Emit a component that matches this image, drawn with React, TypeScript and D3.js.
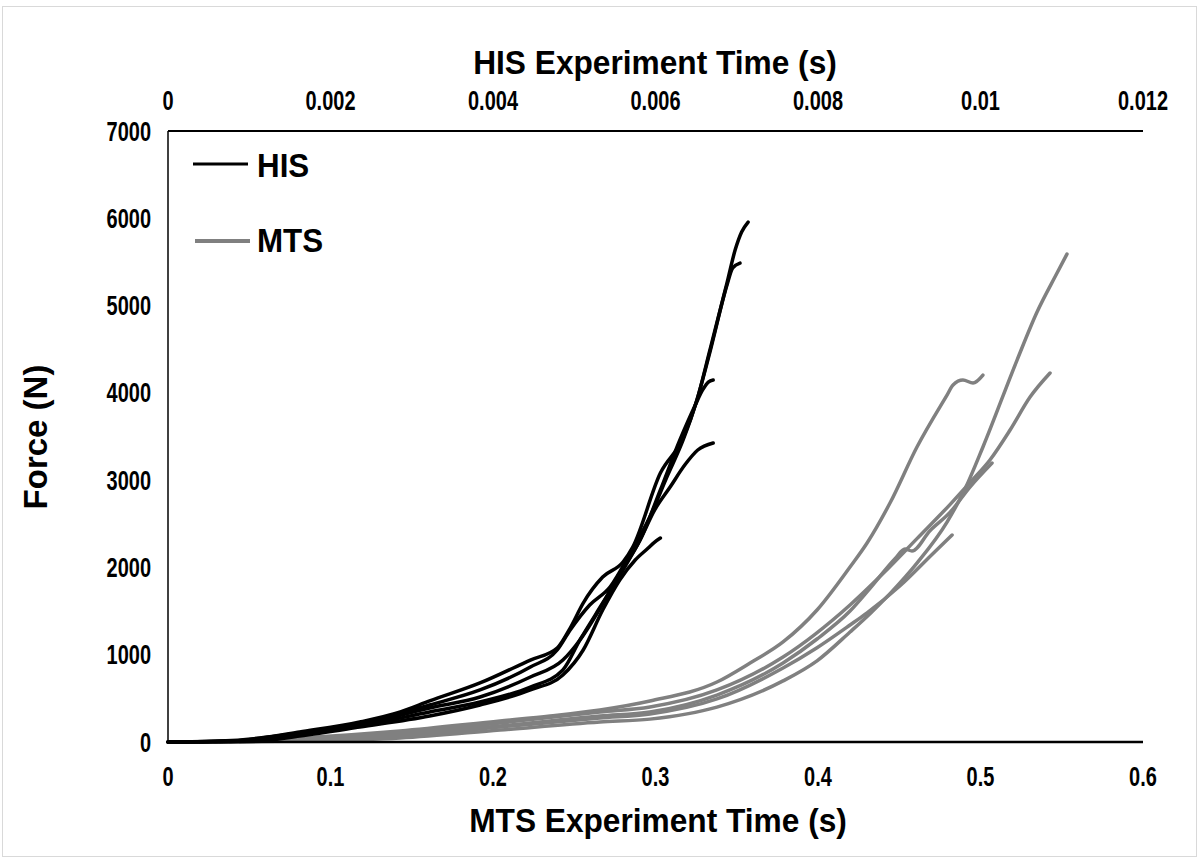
import React from "react";
import * as d3 from "d3";

// ---- Data ----
const hisTicks = [0, 0.002, 0.004, 0.006, 0.008, 0.01, 0.012];
const mtsTicks = [0, 0.1, 0.2, 0.3, 0.4, 0.5, 0.6];
const forceTicks = [0, 1000, 2000, 3000, 4000, 5000, 6000, 7000];

// HIS tests: [HIS time (s), force (N)]
const his1: [number, number][] = [
  [0, 0], [0.00064, 11], [0.00113, 46], [0.00162, 115], [0.00236, 229], [0.00286, 344],
  [0.00322, 470], [0.00384, 676], [0.00446, 939], [0.00479, 1077], [0.00495, 1306],
  [0.00511, 1592], [0.00535, 1890], [0.0056, 2062], [0.00572, 2234], [0.00606, 3082],
  [0.00634, 3483], [0.00651, 3918], [0.00667, 4491], [0.00688, 5258], [0.00698, 5636],
  [0.00706, 5843], [0.00714, 5957],
];
const his2: [number, number][] = [
  [0, 0], [0.00076, 11], [0.00162, 103], [0.00236, 206], [0.00322, 424], [0.00384, 596],
  [0.00446, 859], [0.00479, 1054], [0.00495, 1283], [0.00519, 1569], [0.00544, 1776],
  [0.00569, 2165], [0.00593, 2578], [0.00614, 3036], [0.00634, 3460], [0.00651, 3918],
  [0.00667, 4468], [0.00688, 5235], [0.00695, 5430], [0.00704, 5487],
];
const his3: [number, number][] = [
  [0, 0], [0.00089, 11], [0.00162, 92], [0.00236, 195], [0.00322, 390], [0.00384, 516],
  [0.00446, 745], [0.00486, 939], [0.00507, 1169], [0.00532, 1535], [0.00556, 1936],
  [0.00581, 2314], [0.00606, 2887], [0.0063, 3460], [0.00649, 3861], [0.00658, 4033],
  [0.00665, 4124], [0.00671, 4147],
];
const his4: [number, number][] = [
  [0, 0], [0.00101, 11], [0.00162, 80], [0.00236, 183], [0.00322, 344], [0.00384, 458],
  [0.00446, 630], [0.00486, 825], [0.00507, 1169], [0.00535, 1592], [0.0056, 1970],
  [0.00581, 2314], [0.00599, 2658], [0.00618, 2921], [0.00636, 3173], [0.00652, 3345],
  [0.00671, 3425],
];
const his5: [number, number][] = [
  [0, 0], [0.00113, 11], [0.00162, 69], [0.00236, 172], [0.00322, 298], [0.00384, 424],
  [0.00446, 596], [0.00486, 768], [0.00511, 1054], [0.00535, 1512], [0.00556, 1856],
  [0.00575, 2085], [0.00591, 2222], [0.00599, 2291], [0.00606, 2337],
];

// MTS tests: [MTS time (s), force (N)]
const mts1: [number, number][] = [
  [0.032, 0], [0.0812, 11], [0.1428, 46], [0.2043, 137], [0.2658, 229], [0.2966, 262],
  [0.3378, 400], [0.3785, 700], [0.3994, 930], [0.4197, 1260], [0.432, 1470],
  [0.4443, 1700], [0.4609, 2050], [0.4794, 2520], [0.4905, 2900], [0.5015, 3380],
  [0.5225, 4376], [0.5348, 4926], [0.5471, 5373], [0.5532, 5590],
];
const mts2: [number, number][] = [
  [0.0197, 0], [0.0812, 46], [0.1428, 126], [0.2043, 241], [0.2351, 298], [0.2658, 367],
  [0.2966, 470], [0.3378, 687], [0.3582, 905], [0.3785, 1146], [0.3994, 1512],
  [0.4197, 2005], [0.4302, 2280], [0.4443, 2738], [0.4609, 3380], [0.4794, 3975],
  [0.4831, 4090], [0.4892, 4147], [0.4954, 4113], [0.5015, 4204],
];
const mts3: [number, number][] = [
  [0.0289, 0], [0.0812, 34], [0.1428, 103], [0.2043, 218], [0.2658, 344], [0.2966, 401],
  [0.3378, 596], [0.3785, 974], [0.4197, 1570], [0.44, 1930], [0.4609, 2330],
  [0.4812, 2720], [0.4954, 3010], [0.5058, 3231], [0.5182, 3574], [0.5305, 3952],
  [0.5428, 4227],
];
const mts4: [number, number][] = [
  [0.0382, 0], [0.0812, 23], [0.1428, 80], [0.2043, 183], [0.2658, 298], [0.2966, 344],
  [0.3378, 538], [0.3785, 905], [0.3994, 1180], [0.4197, 1500], [0.432, 1760],
  [0.4474, 2100], [0.4535, 2211], [0.4578, 2188], [0.4689, 2420], [0.4812, 2630],
  [0.4935, 2921], [0.5071, 3196],
];
const mts5: [number, number][] = [
  [0.0443, 0], [0.0812, 23], [0.1428, 69], [0.2043, 172], [0.2658, 275], [0.2966, 321],
  [0.3378, 493], [0.3785, 848], [0.3994, 1080], [0.4197, 1340], [0.4302, 1480],
  [0.4505, 1790], [0.4708, 2160], [0.4825, 2371],
];

const hisSeries = [his1, his2, his3, his4, his5];
const mtsSeries = [mts1, mts2, mts3, mts4, mts5];
const legendItems = ["HIS", "MTS"];

const W = 1200;
const H = 862;
const plot = { left: 168, right: 1143, top: 131, bottom: 742 };
const FONT = "'Liberation Sans', Arial, sans-serif";
const GRAY = "#808080";

function Txt(props: {
  x: number; y: number; size: number; sx?: number; anchor?: string; rotate?: number; children: React.ReactNode;
}) {
  const { x, y, size, sx = 0.9, anchor = "middle", rotate = 0, children } = props;
  return (
    <text
      transform={`translate(${x},${y}) rotate(${rotate}) scale(${sx},1)`}
      textAnchor={anchor}
      fontFamily={FONT}
      fontWeight="bold"
      fontSize={size}
      fill="#000"
    >
      {children}
    </text>
  );
}

export default function App() {
  const xMts = d3.scaleLinear().domain([0, 0.6]).range([plot.left, plot.right]);
  const xHis = d3.scaleLinear().domain([0, 0.012]).range([plot.left, plot.right]);
  const y = d3.scaleLinear().domain([0, 7000]).range([plot.bottom, plot.top]);

  const lineHis = d3
    .line<[number, number]>()
    .x((d) => xHis(d[0]))
    .y((d) => y(d[1]))
    .curve(d3.curveMonotoneX);
  const lineMts = d3
    .line<[number, number]>()
    .x((d) => xMts(d[0]))
    .y((d) => y(d[1]))
    .curve(d3.curveMonotoneX);

  const fmt = (v: number) => String(v);

  return (
    <svg width={W} height={H} style={{ position: "absolute", left: 0, top: 0, background: "#fff" }}>
      <rect x={0} y={0} width={W} height={H} fill="#fff" />
      <rect x={2.5} y={6.5} width={1194} height={850} fill="none" stroke="#d9d9d9" strokeWidth={1} />

      {/* axes */}
      <line x1={plot.left} x2={plot.right} y1={plot.top} y2={plot.top} stroke="#000" strokeWidth={2} />
      <line x1={plot.left} x2={plot.left} y1={plot.top} y2={plot.bottom} stroke="#000" strokeWidth={1.5} />

      {/* MTS curves */}
      {mtsSeries.map((s, i) => (
        <path key={"m" + i} d={lineMts(s) || ""} fill="none" stroke={GRAY} strokeWidth={3.5} strokeLinejoin="round" strokeLinecap="round" />
      ))}
      {/* HIS curves */}
      {hisSeries.map((s, i) => (
        <path key={"h" + i} d={lineHis(s) || ""} fill="none" stroke="#000" strokeWidth={3.5} strokeLinejoin="round" strokeLinecap="round" />
      ))}

      <line x1={plot.left} x2={plot.right} y1={plot.bottom} y2={plot.bottom} stroke="#000" strokeWidth={2.5} />

      {/* Y ticks */}
      {forceTicks.map((t) => (
        <Txt key={"y" + t} x={151} y={y(t) + 9.5} size={27} anchor="end" sx={0.74}>
          {fmt(t)}
        </Txt>
      ))}
      {/* bottom ticks */}
      {mtsTicks.map((t) => (
        <Txt key={"b" + t} x={xMts(t)} y={786} size={27} sx={0.74}>
          {fmt(t)}
        </Txt>
      ))}
      {/* top ticks */}
      {hisTicks.map((t) => (
        <Txt key={"t" + t} x={xHis(t)} y={110} size={27} sx={0.74}>
          {fmt(t)}
        </Txt>
      ))}

      {/* titles */}
      <Txt x={655} y={74} size={33} sx={0.96}>HIS Experiment Time (s)</Txt>
      <Txt x={658} y={832} size={33} sx={0.96}>MTS Experiment Time (s)</Txt>
      <Txt x={47} y={437} size={33} sx={1.0} rotate={-90}>Force (N)</Txt>

      {/* legend */}
      <line x1={193} x2={248} y1={164} y2={164} stroke="#000" strokeWidth={3} />
      <Txt x={257} y={177} size={33} anchor="start" sx={0.95}>{legendItems[0]}</Txt>
      <line x1={195} x2={250} y1={241} y2={241} stroke={GRAY} strokeWidth={4} />
      <Txt x={257} y={252} size={33} anchor="start" sx={0.95}>{legendItems[1]}</Txt>
    </svg>
  );
}
